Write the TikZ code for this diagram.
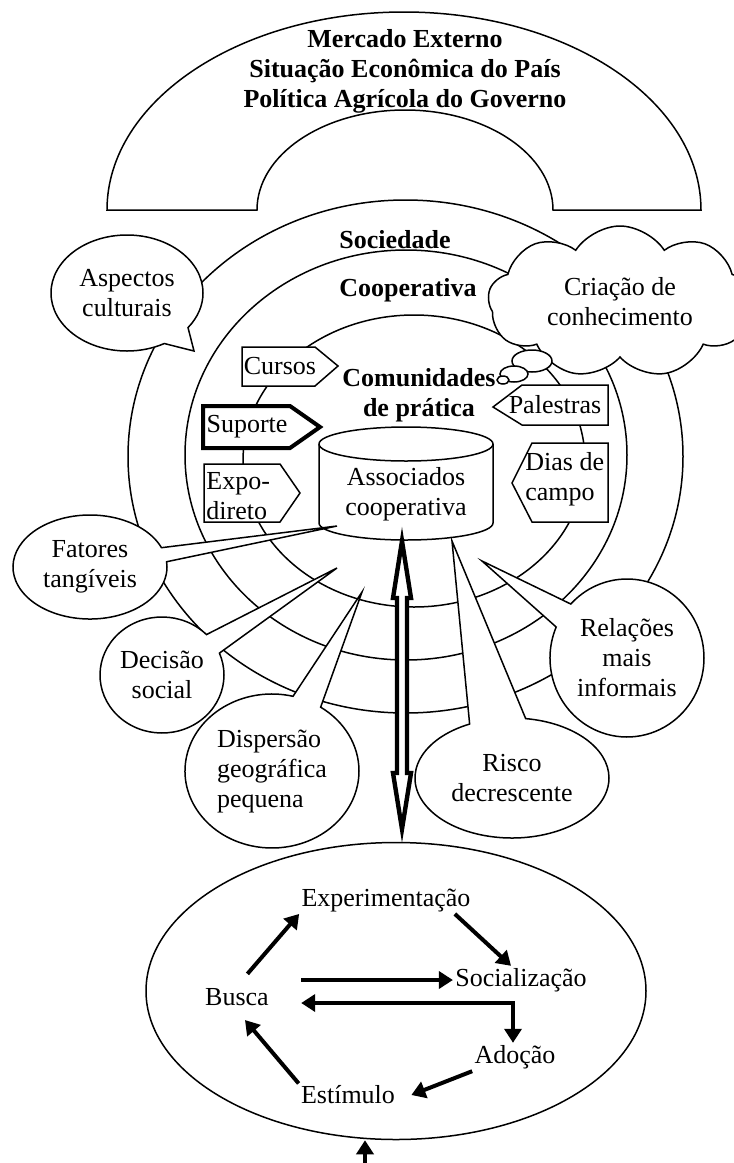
\documentclass[tikz,border=0pt]{standalone}
\usepackage{fontspec}
\setmainfont{Liberation Serif}
\usepackage{tikz}
\usetikzlibrary{arrows.meta,positioning,calc,shapes.geometric,shapes.symbols,shapes.callouts}

\newcommand{\diagfont}{\fontsize{13}{15}\selectfont}

\tikzset{
  ring/.style={draw, line width=0.75pt},
  ringlabel/.style={font=\diagfont\bfseries, inner sep=1pt},
  tagbox/.style={draw, fill=white, line width=0.75pt, line join=miter},
  taglabel/.style={font=\diagfont, inner sep=1pt, align=left},
  bubble/.style={ellipse callout, draw, fill=white, line width=0.75pt,
    font=\diagfont, inner sep=0pt, align=center, callout pointer arc=#1},
  bubble/.default=20,
  thought/.style={cloud, draw, fill=white, line width=0.75pt,
    cloud puffs=9, cloud puff arc=115, cloud ignores aspect,
    font=\diagfont, inner sep=0pt, align=center},
  puff/.style={ellipse, draw, fill=white, line width=0.75pt, inner sep=0pt},
  hollow/.style={draw, fill=white, line width=2.2pt, line join=miter},
  stage/.style={font=\diagfont, inner sep=1pt},
  cycarrow/.style={line width=2pt, >={Triangle[length=7pt,width=8.5pt]}},
}

\begin{document}
\begin{tikzpicture}[x=0.5pt, y=-0.5pt, font=\diagfont]
\useasboundingbox (0,0) rectangle (734,1163);

% rings: Sociedade, Cooperativa, Comunidades
\draw[ring] (405.5,456.5) ellipse [x radius=277.5, y radius=256.5];
\draw[ring] (406,455) ellipse [x radius=221, y radius=205];
\draw[ring] (414,461) ellipse [x radius=171, y radius=146];

% outer context arch
\draw[ring] (107,210) arc[start angle=180, end angle=360, x radius=297, y radius=198]
  -- (553,210) arc[start angle=360, end angle=180, x radius=148, y radius=100] -- cycle;
\node[ringlabel, align=center] (contexto) at (405,71)
  {Mercado Externo\\Situação Econômica do País\\Política Agrícola do Governo};

\node[ringlabel, anchor=west] (sociedade) at (337,240) {Sociedade};
\node[ringlabel, anchor=west] (cooperativa) at (337,290) {Cooperativa};
\node[ringlabel, align=center] (comunidades) at (419,395) {Comunidades\\de prática};

% tags
\draw[tagbox] (242,347) -- (315,347) -- (338,366) -- (315,386) -- (242,386) -- cycle;
\node[taglabel] (cursos) at (280,366) {Cursos};
\draw[tagbox, line width=2pt] (203,406) -- (290,406) -- (320,427) -- (290,448) -- (203,448) -- cycle;
\node[taglabel] (suporte) at (247,427) {Suporte};
\draw[tagbox] (204,464) -- (280,464) -- (300,493) -- (280,522) -- (204,522) -- cycle;
\node[taglabel, anchor=west] (expo) at (204,496) {Expo-\\direto};
\draw[tagbox] (493,407) -- (522,385) -- (608,385) -- (608,425) -- (522,425) -- cycle;
\node[taglabel] (palestras) at (555,405) {Palestras};
\draw[tagbox] (512,483) -- (532,443) -- (608,443) -- (608,522) -- (532,522) -- cycle;
\node[taglabel, anchor=west] (dias) at (523,479) {Dias de\\campo};

% cylinder
\draw[tagbox] (319,444) -- (319,523) arc[start angle=180, end angle=0, x radius=87, y radius=17]
  -- (493,444) arc[start angle=0, end angle=-180, x radius=87, y radius=17] -- cycle;
\draw[ring] (319,444) arc[start angle=180, end angle=0, x radius=87, y radius=17];
\node[stage, align=center] (associados) at (406,494) {Associados\\cooperativa};

% callouts
\node[bubble=24, minimum width=76pt, minimum height=58pt,
  callout absolute pointer={(194,351)}] (aspectos) at (127,293) {Aspectos\\culturais};
\node[bubble=16, minimum width=77pt, minimum height=52pt,
  callout absolute pointer={(337,526)}] (fatores) at (90,567) {Fatores\\tangíveis};
\node[bubble=22, minimum width=62pt, minimum height=58pt,
  callout absolute pointer={(337,568)}] (decisao) at (162,675) {Decisão\\social};
\node[bubble=20, minimum width=87pt, minimum height=77pt, align=left,
  callout absolute pointer={(362,592)}] (dispersao) at (272,771) {Dispersão\\geográfica\\pequena};
\node[bubble=34, minimum width=97pt, minimum height=60pt,
  callout absolute pointer={(452,541)}] (risco) at (512,778) {Risco\\decrescente};
\node[bubble=20, minimum width=77pt, minimum height=79pt,
  callout absolute pointer={(482,561)}] (relacoes) at (627,658) {Relações\\mais\\informais};

% thought cloud
\node[thought, minimum width=132pt, minimum height=76pt] (criacao) at (620,302) {Criação de\\conhecimento};
\node[puff, minimum width=20pt, minimum height=11pt] (puffa) at (532,361) {};
\node[puff, minimum width=14pt, minimum height=8pt] (puffb) at (514,374) {};
\node[puff, minimum width=6pt, minimum height=4pt] (puffc) at (503,380) {};

% link to the learning cycle
\coordinate (dtop) at (402,541);
\coordinate (dbot) at (402,829);
\draw[hollow] (dtop) -- ++(9,57) -- ++(-4,0) -- ++(0,175) -- ++(4,0) -- (dbot)
  -- ++(-9,-56) -- ++(4,0) -- ++(0,-175) -- ++(-4,0) -- cycle;

% learning cycle
\node[draw, ellipse, line width=0.75pt, minimum width=250pt, minimum height=148.5pt,
  inner sep=0pt] (ciclo) at (396,991) {};
\node[stage] (exper) at (386,900) {Experimentação};
\node[stage] (social) at (521,980) {Socialização};
\node[stage] (busca) at (237,997) {Busca};
\node[stage] (adocao) at (515,1057) {Adoção};
\node[stage] (estimulo) at (348,1095) {Estímulo};

\draw[cycarrow, ->, shorten <=8pt] (busca.north) -- (exper.south west);
\draw[cycarrow, ->] ([xshift=-9pt]exper.south east) -- ([xshift=-5pt]social.north);
\draw[cycarrow, ->] (busca.east |- social.west) ++(15pt,0) -- (social.west);
\draw[cycarrow, <->] ([xshift=15pt,yshift=-3pt]busca.east) -| ([xshift=-1pt]adocao.north);
\draw[cycarrow, ->] (adocao.south west) -- ([xshift=7pt]estimulo.east);
\draw[cycarrow, ->] (estimulo.north west) -- ([xshift=4pt,yshift=-6pt]busca.south);

\coordinate (entrada) at (365,1185);
\draw[cycarrow, ->] (entrada) -- (entrada |- ciclo.south);
\end{tikzpicture}
\end{document}
